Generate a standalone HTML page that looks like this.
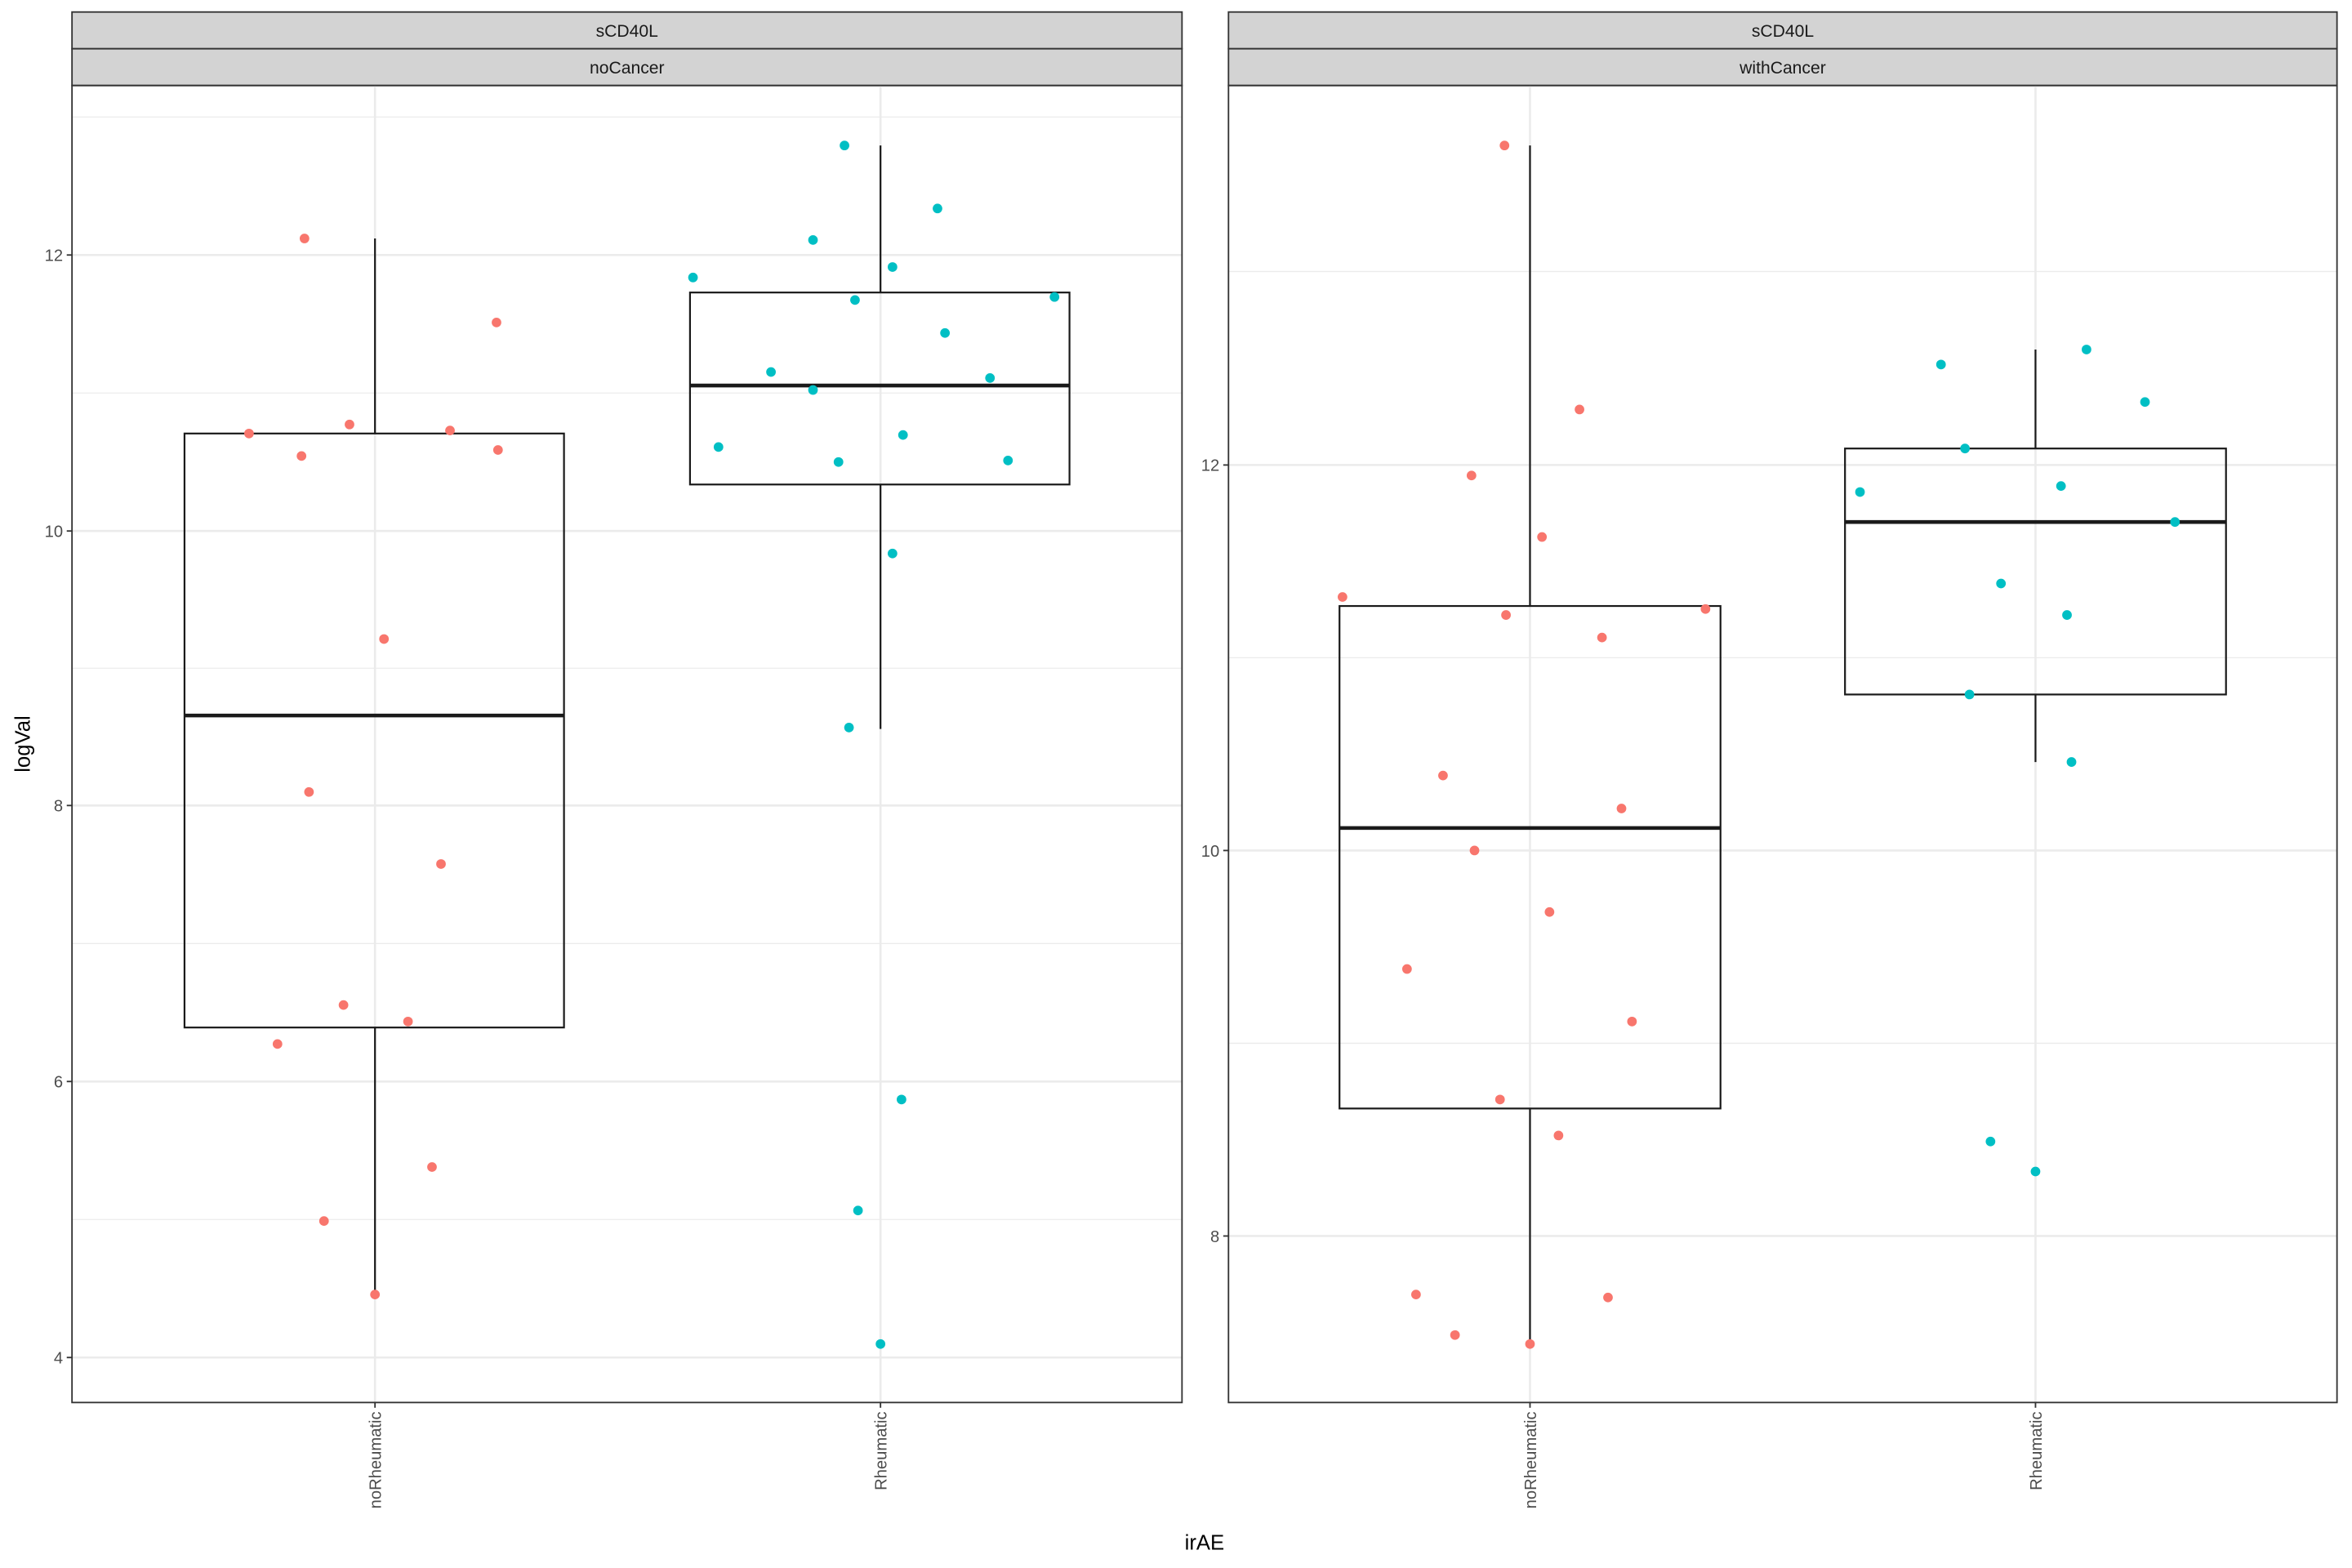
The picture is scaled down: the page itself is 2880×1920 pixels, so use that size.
<!DOCTYPE html>
<html><head><style>html,body{margin:0;padding:0;background:#fff}svg{display:block}</style></head>
<body>
<svg width="2880" height="1920" viewBox="0 0 1568 1045.33" xmlns="http://www.w3.org/2000/svg" font-family="Liberation Sans, Arial, sans-serif">
<rect width="1568" height="1045.33" fill="#fff"/>
<!-- Panel 1 -->
<g>
<rect x="48" y="8" width="740" height="24.5" fill="#d3d3d3" stroke="#333" stroke-width="1"/>
<rect x="48" y="32.5" width="740" height="24.5" fill="#d3d3d3" stroke="#333" stroke-width="1"/>
<text x="418" y="24.5" font-size="11.5" fill="#1a1a1a" text-anchor="middle">sCD40L</text>
<text x="418" y="49" font-size="11.5" fill="#1a1a1a" text-anchor="middle">noCancer</text>
<g stroke="#ebebeb" stroke-width="0.7">
<line x1="48" x2="788" y1="78" y2="78"/><line x1="48" x2="788" y1="262" y2="262"/><line x1="48" x2="788" y1="445.5" y2="445.5"/><line x1="48" x2="788" y1="629" y2="629"/><line x1="48" x2="788" y1="813" y2="813"/>
</g>
<g stroke="#ebebeb" stroke-width="1.4">
<line x1="48" x2="788" y1="170" y2="170"/><line x1="48" x2="788" y1="354" y2="354"/><line x1="48" x2="788" y1="537" y2="537"/><line x1="48" x2="788" y1="721" y2="721"/><line x1="48" x2="788" y1="905" y2="905"/>
<line x1="250" x2="250" y1="57" y2="935"/><line x1="587" x2="587" y1="57" y2="935"/>
</g>
<g stroke="#1a1a1a" stroke-width="1.2" fill="#fff">
<line x1="250" x2="250" y1="159" y2="289"/><line x1="250" x2="250" y1="685" y2="863"/>
<rect x="123" y="289" width="253" height="396" fill="none"/>
<line x1="123" x2="376" y1="477" y2="477" stroke-width="2.5"/>
<line x1="587" x2="587" y1="97" y2="195"/><line x1="587" x2="587" y1="323" y2="486"/>
<rect x="460" y="195" width="253" height="128" fill="none"/>
<line x1="460" x2="713" y1="257" y2="257" stroke-width="2.5"/>
</g>
<g fill="#F8766D">
<circle cx="203" cy="159" r="3.2"/><circle cx="331" cy="215" r="3.2"/><circle cx="166" cy="289" r="3.2"/><circle cx="233" cy="283" r="3.2"/><circle cx="300" cy="287" r="3.2"/><circle cx="201" cy="304" r="3.2"/><circle cx="332" cy="300" r="3.2"/><circle cx="256" cy="426" r="3.2"/><circle cx="206" cy="528" r="3.2"/><circle cx="294" cy="576" r="3.2"/><circle cx="229" cy="670" r="3.2"/><circle cx="272" cy="681" r="3.2"/><circle cx="185" cy="696" r="3.2"/><circle cx="288" cy="778" r="3.2"/><circle cx="216" cy="814" r="3.2"/><circle cx="250" cy="863" r="3.2"/>
</g>
<g fill="#00BFC4">
<circle cx="563" cy="97" r="3.2"/><circle cx="625" cy="139" r="3.2"/><circle cx="542" cy="160" r="3.2"/><circle cx="595" cy="178" r="3.2"/><circle cx="462" cy="185" r="3.2"/><circle cx="570" cy="200" r="3.2"/><circle cx="703" cy="198" r="3.2"/><circle cx="630" cy="222" r="3.2"/><circle cx="514" cy="248" r="3.2"/><circle cx="660" cy="252" r="3.2"/><circle cx="542" cy="260" r="3.2"/><circle cx="602" cy="290" r="3.2"/><circle cx="479" cy="298" r="3.2"/><circle cx="559" cy="308" r="3.2"/><circle cx="672" cy="307" r="3.2"/><circle cx="595" cy="369" r="3.2"/><circle cx="566" cy="485" r="3.2"/><circle cx="601" cy="733" r="3.2"/><circle cx="572" cy="807" r="3.2"/><circle cx="587" cy="896" r="3.2"/>
</g>
<rect x="48" y="57" width="740" height="878" fill="none" stroke="#333" stroke-width="1"/>
<g stroke="#333" stroke-width="1">
<line x1="44.5" x2="48" y1="170" y2="170"/><line x1="44.5" x2="48" y1="354" y2="354"/><line x1="44.5" x2="48" y1="537" y2="537"/><line x1="44.5" x2="48" y1="721" y2="721"/><line x1="44.5" x2="48" y1="905" y2="905"/>
<line x1="250" x2="250" y1="935" y2="938.5"/><line x1="587" x2="587" y1="935" y2="938.5"/>
</g>
<g font-size="11" fill="#4d4d4d" text-anchor="end">
<text x="42" y="174">12</text><text x="42" y="358">10</text><text x="42" y="541">8</text><text x="42" y="725">6</text><text x="42" y="909">4</text>
</g>
<text transform="translate(254,941) rotate(-90)" font-size="11" fill="#4d4d4d" text-anchor="end">noRheumatic</text>
<text transform="translate(591,941) rotate(-90)" font-size="11" fill="#4d4d4d" text-anchor="end">Rheumatic</text>
</g>
<!-- Panel 2 -->
<g>
<rect x="819" y="8" width="739" height="24.5" fill="#d3d3d3" stroke="#333" stroke-width="1"/>
<rect x="819" y="32.5" width="739" height="24.5" fill="#d3d3d3" stroke="#333" stroke-width="1"/>
<text x="1188.5" y="24.5" font-size="11.5" fill="#1a1a1a" text-anchor="middle">sCD40L</text>
<text x="1188.5" y="49" font-size="11.5" fill="#1a1a1a" text-anchor="middle">withCancer</text>
<g stroke="#ebebeb" stroke-width="0.7">
<line x1="819" x2="1558" y1="181" y2="181"/><line x1="819" x2="1558" y1="438.5" y2="438.5"/><line x1="819" x2="1558" y1="695.5" y2="695.5"/>
</g>
<g stroke="#ebebeb" stroke-width="1.4">
<line x1="819" x2="1558" y1="310" y2="310"/><line x1="819" x2="1558" y1="567" y2="567"/><line x1="819" x2="1558" y1="824" y2="824"/>
<line x1="1020" x2="1020" y1="57" y2="935"/><line x1="1357" x2="1357" y1="57" y2="935"/>
</g>
<g stroke="#1a1a1a" stroke-width="1.2">
<line x1="1020" x2="1020" y1="97" y2="404"/><line x1="1020" x2="1020" y1="739" y2="895"/>
<rect x="893" y="404" width="254" height="335" fill="none"/>
<line x1="893" x2="1147" y1="552" y2="552" stroke-width="2.5"/>
<line x1="1357" x2="1357" y1="233" y2="299"/><line x1="1357" x2="1357" y1="463" y2="508"/>
<rect x="1230" y="299" width="254" height="164" fill="none"/>
<line x1="1230" x2="1484" y1="348" y2="348" stroke-width="2.5"/>
</g>
<g fill="#F8766D">
<circle cx="1003" cy="97" r="3.2"/><circle cx="1053" cy="273" r="3.2"/><circle cx="981" cy="317" r="3.2"/><circle cx="1028" cy="358" r="3.2"/><circle cx="895" cy="398" r="3.2"/><circle cx="1004" cy="410" r="3.2"/><circle cx="1068" cy="425" r="3.2"/><circle cx="1137" cy="406" r="3.2"/><circle cx="962" cy="517" r="3.2"/><circle cx="1081" cy="539" r="3.2"/><circle cx="983" cy="567" r="3.2"/><circle cx="1033" cy="608" r="3.2"/><circle cx="938" cy="646" r="3.2"/><circle cx="1088" cy="681" r="3.2"/><circle cx="1000" cy="733" r="3.2"/><circle cx="1039" cy="757" r="3.2"/><circle cx="944" cy="863" r="3.2"/><circle cx="1072" cy="865" r="3.2"/><circle cx="970" cy="890" r="3.2"/><circle cx="1020" cy="896" r="3.2"/>
</g>
<g fill="#00BFC4">
<circle cx="1391" cy="233" r="3.2"/><circle cx="1294" cy="243" r="3.2"/><circle cx="1430" cy="268" r="3.2"/><circle cx="1310" cy="299" r="3.2"/><circle cx="1374" cy="324" r="3.2"/><circle cx="1240" cy="328" r="3.2"/><circle cx="1450" cy="348" r="3.2"/><circle cx="1334" cy="389" r="3.2"/><circle cx="1378" cy="410" r="3.2"/><circle cx="1313" cy="463" r="3.2"/><circle cx="1381" cy="508" r="3.2"/><circle cx="1327" cy="761" r="3.2"/><circle cx="1357" cy="781" r="3.2"/>
</g>
<rect x="819" y="57" width="739" height="878" fill="none" stroke="#333" stroke-width="1"/>
<g stroke="#333" stroke-width="1">
<line x1="815.5" x2="819" y1="310" y2="310"/><line x1="815.5" x2="819" y1="567" y2="567"/><line x1="815.5" x2="819" y1="824" y2="824"/>
<line x1="1020" x2="1020" y1="935" y2="938.5"/><line x1="1357" x2="1357" y1="935" y2="938.5"/>
</g>
<g font-size="11" fill="#4d4d4d" text-anchor="end">
<text x="813" y="314">12</text><text x="813" y="571">10</text><text x="813" y="828">8</text>
</g>
<text transform="translate(1024,941) rotate(-90)" font-size="11" fill="#4d4d4d" text-anchor="end">noRheumatic</text>
<text transform="translate(1361,941) rotate(-90)" font-size="11" fill="#4d4d4d" text-anchor="end">Rheumatic</text>
</g>
<text x="803" y="1033" font-size="14" fill="#000" text-anchor="middle">irAE</text>
<text transform="translate(20,496) rotate(-90)" font-size="14" fill="#000" text-anchor="middle">logVal</text>
</svg>
</body></html>
